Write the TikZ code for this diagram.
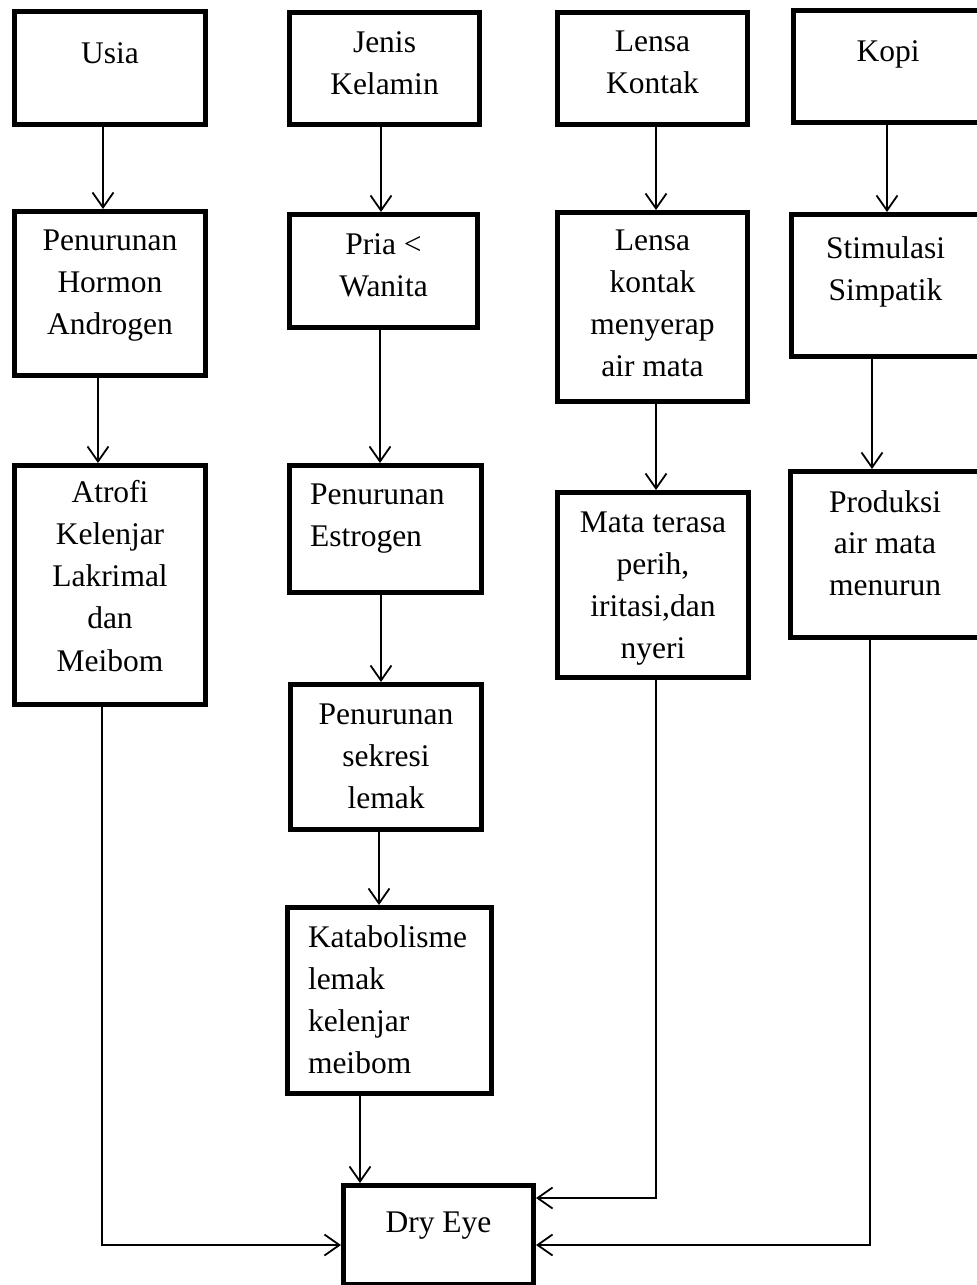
\documentclass[tikz,border=0pt]{standalone}
\usepackage{fontspec}
\setmainfont{Liberation Serif}
\usetikzlibrary{arrows.meta,calc}
\newcommand\fl{\rule{0pt}{24pt}}
\begin{document}
\begin{tikzpicture}[x=1pt,y=-1pt,
  box/.style={draw, line width=5pt, inner sep=0pt, rectangle, anchor=north west},
  txt/.style={font=\fontsize{31.5}{42.3}\selectfont, inner sep=0pt, outer sep=0pt, align=center, anchor=north},
  txl/.style={txt, align=left, anchor=north west},
  conn/.style={line width=1.8pt, -{Straight Barb[length=15pt,width=21pt]}}]
\useasboundingbox (0,0) rectangle (977,1285);
% boxes
\node[box, minimum width=191pt, minimum height=113pt] (usia) at (12,9) {};
\node[box, minimum width=191pt, minimum height=164pt] (horm) at (12,209) {};
\node[box, minimum width=191pt, minimum height=239pt] (atro) at (12,463) {};
\node[box, minimum width=190pt, minimum height=112pt] (jenis) at (287,10) {};
\node[box, minimum width=188pt, minimum height=113pt] (pria) at (287,212) {};
\node[box, minimum width=192pt, minimum height=127pt] (estro) at (287,463) {};
\node[box, minimum width=191pt, minimum height=145pt] (sekr) at (288,682) {};
\node[box, minimum width=204pt, minimum height=186pt] (kata) at (285,905) {};
\node[box, minimum width=190pt, minimum height=112pt] (lens) at (555,10) {};
\node[box, minimum width=190pt, minimum height=189pt] (lens2) at (555,210) {};
\node[box, minimum width=191pt, minimum height=185pt] (mata) at (555,490) {};
\node[box, minimum width=189pt, minimum height=112pt] (kopi) at (791,8) {};
\node[box, minimum width=188pt, minimum height=142pt] (stim) at (789,212) {};
\node[box, minimum width=189pt, minimum height=166pt] (prod) at (788,469) {};
\node[box, minimum width=190pt, minimum height=99pt] (dry) at (341,1183) {};
% texts
\node[txt] (usiat) at (110,39) {\fl Usia};
\node[txt] (hormt) at (110,226) {\fl Penurunan\\Hormon\\Androgen};
\node[txt] (atrot) at (110,478) {\fl Atrofi\\Kelenjar\\Lakrimal\\dan\\Meibom};
\node[txt] (jenist) at (384.5,28) {\fl Jenis\\Kelamin};
\node[txt] (priat) at (383.5,230) {\fl Pria <\\Wanita};
\node[txl] (estrot) at (310,480) {\fl Penurunan\\Estrogen};
\node[txt] (sekrt) at (386,700) {\fl Penurunan\\sekresi\\lemak};
\node[txl] (katat) at (308,923) {\fl Katabolisme\\lemak\\kelenjar\\meibom};
\node[txt] (lenst) at (652.5,27) {\fl Lensa\\Kontak};
\node[txt] (lens2t) at (652.5,226) {\fl Lensa\\kontak\\menyerap\\air mata};
\node[txt] (matat) at (653,508) {\fl Mata terasa\\perih,\\iritasi,dan\\nyeri};
\node[txt] (kopit) at (888,37) {\fl Kopi};
\node[txt] (stimt) at (885.5,234) {\fl Stimulasi\\Simpatik};
\node[txt, font=\fontsize{31.5}{41.5}\selectfont] (prodt) at (885,488) {\fl Produksi\\air mata\\menurun};
\node[txt] (dryt) at (438.5,1208) {\fl Dry Eye};
% connectors
\draw[conn] (usia.south -| 103,0) -- (horm.north -| 103,0);
\draw[conn] (horm.south -| 98,0) -- (atro.north -| 98,0);
\draw[conn] (atro.south -| 102,0) |- (dry.west |- 0,1245);
\draw[conn] (jenis.south -| 381,0) -- (pria.north -| 381,0);
\draw[conn] (pria.south -| 380,0) -- (estro.north -| 380,0);
\draw[conn] (estro.south -| 381,0) -- (sekr.north -| 381,0);
\draw[conn] (sekr.south -| 379,0) -- (kata.north -| 379,0);
\draw[conn] (kata.south -| 360,0) -- (dry.north -| 360,0);
\draw[conn] (lens.south -| 656,0) -- (lens2.north -| 656,0);
\draw[conn] (lens2.south -| 656,0) -- (mata.north -| 656,0);
\draw[conn] (mata.south -| 656,0) |- (dry.east |- 0,1198);
\draw[conn] (kopi.south -| 887,0) -- (stim.north -| 887,0);
\draw[conn] (stim.south -| 872,0) -- (prod.north -| 872,0);
\draw[conn] (prod.south -| 870,0) |- (dry.east |- 0,1245);
\end{tikzpicture}
\end{document}
